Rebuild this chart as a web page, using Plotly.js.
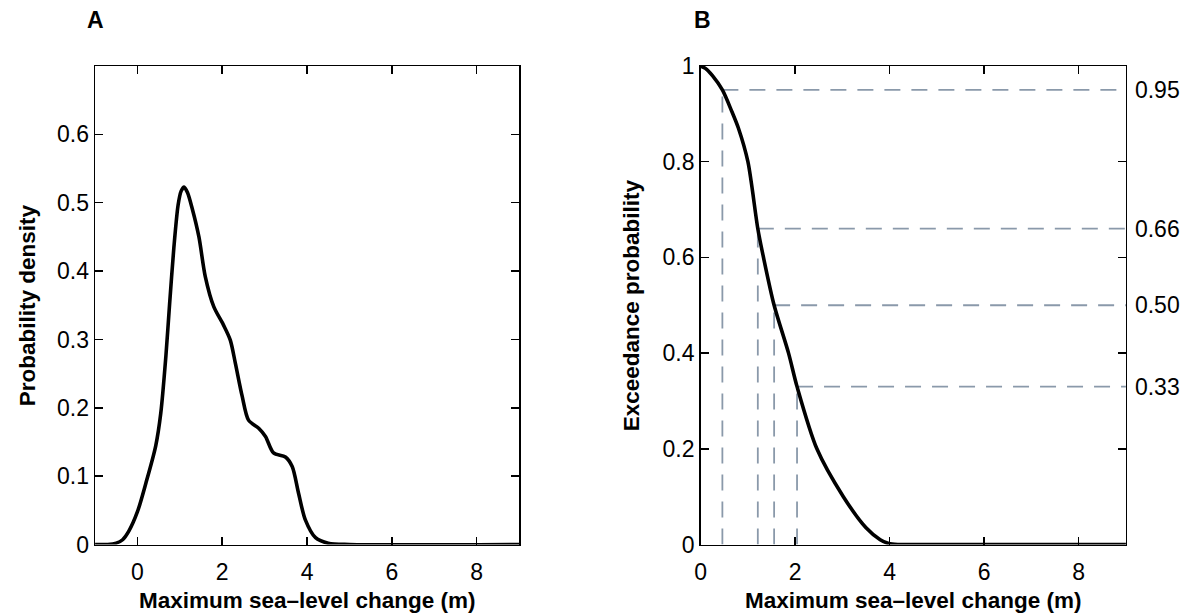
<!DOCTYPE html>
<html><head><meta charset="utf-8">
<script src="https://cdn.plot.ly/plotly-3.0.1.min.js"></script>
<style>html,body{margin:0;padding:0;background:#fff}#chart{width:1194px;height:613px}</style>
</head><body><div id="chart"></div>
<script>
// Panel A: probability density of maximum sea-level change
const pdfX = [-1, -0.7, -0.5, -0.35, -0.2, 0, 0.2, 0.43, 0.55, 0.67, 0.76, 0.86, 0.96, 1.03, 1.1, 1.18, 1.29, 1.45, 1.6, 1.8, 2.03, 2.19, 2.31, 2.47, 2.62, 2.86, 3.02, 3.21, 3.49, 3.65, 3.8, 3.96, 4.2, 4.5, 5, 9];
const pdfY = [0, 0, 0.002, 0.007, 0.02, 0.048, 0.09, 0.144, 0.192, 0.275, 0.353, 0.435, 0.497, 0.517, 0.523, 0.515, 0.492, 0.45, 0.392, 0.348, 0.321, 0.299, 0.265, 0.217, 0.182, 0.170, 0.158, 0.134, 0.128, 0.114, 0.075, 0.036, 0.01, 0.002, 0, 0];

// Panel B: exceedance probability
const excX = [0, 0.1, 0.25, 0.46, 0.66, 0.8, 1.0, 1.21, 1.33, 1.555, 1.86, 2.04, 2.46, 3.02, 3.5, 3.8, 3.98, 4.2, 5, 9];
const excY = [1, 0.995, 0.98, 0.95, 0.905, 0.87, 0.8, 0.66, 0.6, 0.5, 0.4, 0.33, 0.2, 0.1, 0.035, 0.01, 0.002, 0, 0, 0];

// Marked exceedance levels and the corresponding sea-level change
const levelProbs = [0.95, 0.66, 0.50, 0.33];
const levelX = [0.46, 1.21, 1.555, 2.04];
const levelLabels = ['0.95', '0.66', '0.50', '0.33'];

const xRangeA = [-1, 9];
const yRangeA = [0, 0.7];
const xRangeB = [0, 9];
const yRangeB = [0, 1];
const yTicksA = [0, 0.1, 0.2, 0.3, 0.4, 0.5, 0.6];

const FONT = 'Liberation Sans, Arial, Helvetica, sans-serif';
const dashColor = '#8a99aa';
const TICK = 23, TITLE = 22.5, PANEL = 23;

// build dashed guide lines from the level arrays
const hx = [], hy = [], vx = [], vy = [];
levelProbs.forEach((p, i) => {
  hx.push(levelX[i], xRangeB[1], null); hy.push(p, p, null);
  vx.push(levelX[i], levelX[i], null); vy.push(yRangeB[0], p, null);
});

const traces = [
  {x: pdfX, y: pdfY, xaxis: 'x', yaxis: 'y', type: 'scatter', mode: 'lines',
   line: {color: '#000', width: 3.6, shape: 'spline', smoothing: 0.8}, hoverinfo: 'skip'},
  {x: hx, y: hy, xaxis: 'x2', yaxis: 'y2', type: 'scatter', mode: 'lines',
   line: {color: dashColor, width: 1.8, dash: '16px,11px'}, connectgaps: false},
  {x: vx, y: vy, xaxis: 'x2', yaxis: 'y2', type: 'scatter', mode: 'lines',
   line: {color: dashColor, width: 1.8, dash: '16px,11px'}, connectgaps: false},
  {x: excX, y: excY, xaxis: 'x2', yaxis: 'y2', type: 'scatter', mode: 'lines',
   line: {color: '#000', width: 3.6, shape: 'spline', smoothing: 0.8}, hoverinfo: 'skip'}
];

const axBase = {
  showline: true, linecolor: '#000', linewidth: 1.5, mirror: 'ticks',
  ticks: 'inside', ticklen: 8, tickwidth: 1.5, tickcolor: '#000',
  showgrid: false, zeroline: false, automargin: false,
  tickfont: {family: FONT, size: TICK, color: '#000'}
};

const yDom = [0.1117, 0.8923];
const layout = {
  width: 1194, height: 613,
  margin: {l: 0, r: 0, t: 0, b: 0},
  paper_bgcolor: '#fff', plot_bgcolor: '#fff',
  showlegend: false,
  font: {family: FONT, color: '#000'},
  xaxis: Object.assign({}, axBase, {domain: [0.0796, 0.4347], range: xRangeA, tick0: 0, dtick: 2, anchor: 'y', ticklabelstandoff: 6}),
  yaxis: Object.assign({}, axBase, {domain: yDom, range: yRangeA, tickvals: yTicksA, anchor: 'x'}),
  xaxis2: Object.assign({}, axBase, {domain: [0.5868, 0.943], range: xRangeB, tick0: 0, dtick: 2, anchor: 'y2', ticklabelstandoff: 6}),
  yaxis2: Object.assign({}, axBase, {domain: yDom, range: yRangeB, tick0: 0, dtick: 0.2, anchor: 'x2'}),
  yaxis3: {overlaying: 'y2', side: 'right', anchor: 'x2', range: yRangeB,
    tickvals: levelProbs, ticktext: levelLabels, ticks: '', showline: false, showgrid: false,
    zeroline: false, automargin: false, ticklabelstandoff: 8,
    tickfont: {family: FONT, size: TICK, color: '#000'}},
  annotations: [
    {text: '<b>A</b>', xref: 'paper', yref: 'paper', x: 85/1194, y: 1 - 20/613, xanchor: 'left', yanchor: 'middle', showarrow: false, font: {family: FONT, size: PANEL, color: '#000'}},
    {text: '<b>B</b>', xref: 'paper', yref: 'paper', x: 692/1194, y: 1 - 20/613, xanchor: 'left', yanchor: 'middle', showarrow: false, font: {family: FONT, size: PANEL, color: '#000'}},
    {text: '<b>Maximum sea\u2013level change (m)</b>', xref: 'x domain', yref: 'paper', x: 0.5, y: 1 - 600/613, xanchor: 'center', yanchor: 'middle', showarrow: false, font: {family: FONT, size: TITLE, color: '#000'}},
    {text: '<b>Maximum sea\u2013level change (m)</b>', xref: 'x2 domain', yref: 'paper', x: 0.5, y: 1 - 600/613, xanchor: 'center', yanchor: 'middle', showarrow: false, font: {family: FONT, size: TITLE, color: '#000'}},
    {text: '<b>Probability density</b>', xref: 'paper', yref: 'y domain', x: 27/1194, y: 0.5, xanchor: 'center', yanchor: 'middle', textangle: -90, showarrow: false, font: {family: FONT, size: TITLE, color: '#000'}},
    {text: '<b>Exceedance probability</b>', xref: 'paper', yref: 'y2 domain', x: 631/1194, y: 0.5, xanchor: 'center', yanchor: 'middle', textangle: -90, showarrow: false, font: {family: FONT, size: TITLE, color: '#000'}}
  ]
};

// dummy trace to activate yaxis3
traces.push({x: [null], y: [null], xaxis: 'x2', yaxis: 'y3', type: 'scatter', mode: 'lines', hoverinfo: 'skip'});

Plotly.newPlot('chart', traces, layout, {staticPlot: true, displayModeBar: false});
</script>
</body></html>
